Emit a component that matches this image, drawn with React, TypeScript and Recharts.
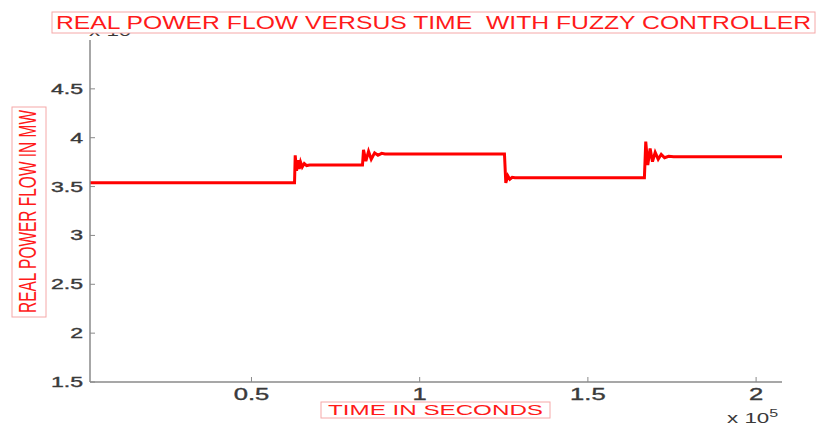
import { LineChart, Line, XAxis, YAxis } from 'recharts';

// time in units of 1e5 s, power in MW (x 1e5 as in the plot)
const timeValues = [
  0.02, 0.628, 0.63, 0.634, 0.638, 0.642, 0.646, 0.651, 0.657, 0.664, 0.673,
  0.83, 0.833, 0.84, 0.848, 0.856, 0.866, 0.876, 0.887, 0.897,
  1.252, 1.256, 1.262, 1.268, 1.275, 1.283,
  1.668, 1.672, 1.678, 1.685, 1.692, 1.7, 1.709, 1.718, 1.728, 1.74, 1.755, 2.077,
];
const powerValues = [
  3.54, 3.54, 3.82, 3.66, 3.77, 3.68, 3.75, 3.7, 3.735, 3.715, 3.72,
  3.72, 3.875, 3.76, 3.86, 3.78, 3.845, 3.82, 3.84, 3.834,
  3.834, 3.537, 3.61, 3.575, 3.595, 3.59,
  3.59, 3.96, 3.72, 3.89, 3.755, 3.85, 3.78, 3.83, 3.795, 3.81, 3.806, 3.806,
];
const xTicks = [0.5, 1, 1.5, 2];
const yTicks = [1.5, 2, 2.5, 3, 3.5, 4, 4.5];

const data = timeValues.map((t, i) => ({ t, p: powerValues[i] }));

const AXIS = '#8a8a8a';
const LABEL = '#3a3a3a';
const RED = '#ff1a1a';
const BOX = '#f5a8a8';
const FONT = '"Liberation Sans", Arial, sans-serif';
const STRETCH = 1.6;

const BottomTick = ({ x, y, payload }: any) => (
  <g>
    <line x1={x} x2={x} y1={y} y2={y - 5} stroke={AXIS} strokeWidth={1} />
    <text
      transform={`translate(${x},${y + 18}) scale(${STRETCH},1)`}
      textAnchor="middle"
      fontSize={16}
      fontFamily={FONT}
      fill={LABEL}
      stroke={LABEL}
      strokeWidth={0.35}
    >
      {payload.value}
    </text>
  </g>
);

const TopTick = ({ x, y }: any) => (
  <line x1={x} x2={x} y1={y} y2={y + 5} stroke={AXIS} strokeWidth={1} />
);

const LeftTick = ({ x, y, payload }: any) => (
  <g>
    <line x1={x} x2={x + 5} y1={y} y2={y} stroke={AXIS} strokeWidth={1} />
    <text
      transform={`translate(${x - 7},${y + 5}) scale(1.65,1)`}
      textAnchor="end"
      fontSize={14}
      fontFamily={FONT}
      fill={LABEL}
      stroke={LABEL}
      strokeWidth={0.35}
    >
      {payload.value}
    </text>
  </g>
);

const RightTick = ({ x, y }: any) => (
  <line x1={x} x2={x - 5} y1={y} y2={y} stroke={AXIS} strokeWidth={1} />
);

export default function App() {
  return (
    <div style={{ position: 'fixed', left: 0, top: 0, width: 818, height: 425, background: '#fff' }}>
      <LineChart width={818} height={425} data={data} margin={{ top: 40, right: 36, bottom: 0, left: 0 }}>
        <XAxis
          xAxisId="bottom"
          dataKey="t"
          type="number"
          domain={[0.02, 2.077]}
          ticks={xTicks}
          height={43}
          tickSize={0}
          tickMargin={0}
          tickLine={false}
          tick={<BottomTick />}
          axisLine={{ stroke: AXIS, strokeWidth: 1.5 }}
          interval={0}
        />
        <XAxis
          xAxisId="top"
          orientation="top"
          dataKey="t"
          type="number"
          domain={[0.02, 2.077]}
          ticks={xTicks}
          height={0}
          tickSize={0}
          tickMargin={0}
          tickLine={false}
          tick={<TopTick />}
          axisLine={{ stroke: AXIS, strokeWidth: 1.5 }}
          interval={0}
        />
        <YAxis
          yAxisId="left"
          type="number"
          domain={[1.5, 5]}
          ticks={yTicks}
          width={90}
          tickSize={0}
          tickMargin={0}
          tickLine={false}
          tick={<LeftTick />}
          axisLine={{ stroke: AXIS, strokeWidth: 1.5 }}
          interval={0}
        />
        <YAxis
          yAxisId="right"
          orientation="right"
          type="number"
          domain={[1.5, 5]}
          ticks={yTicks}
          width={0}
          tickSize={0}
          tickMargin={0}
          tickLine={false}
          tick={<RightTick />}
          axisLine={{ stroke: AXIS, strokeWidth: 1.5 }}
          interval={0}
        />
        <Line
          xAxisId="top"
          yAxisId="right"
          dataKey="p"
          stroke="none"
          dot={false}
          activeDot={false}
          isAnimationActive={false}
        />
        <Line
          xAxisId="bottom"
          yAxisId="left"
          type="linear"
          dataKey="p"
          stroke="#ff0000"
          strokeWidth={3}
          dot={false}
          activeDot={false}
          isAnimationActive={false}
        />
      </LineChart>
      <svg width={818} height={425} style={{ position: 'absolute', left: 0, top: 0, pointerEvents: 'none' }}>
        {/* exponent labels */}
        <text transform="translate(89,36) scale(1.6,1)" fontSize={14} fontFamily={FONT} fill={LABEL}>
          x 10<tspan fontSize={10} dy={-6}>5</tspan>
        </text>
        <text transform="translate(727,423) scale(1.6,1)" fontSize={14} fontFamily={FONT} fill={LABEL}>
          x 10<tspan fontSize={10} dy={-6}>5</tspan>
        </text>
        {/* title */}
        <rect x={52} y={12} width={763} height={21} fill="#fff" stroke={BOX} strokeWidth={1} />
        <text
          x={56}
          y={28.5}
          fontSize={18.5}
          fontFamily={FONT}
          fill={RED}
          textLength={755}
          lengthAdjust="spacingAndGlyphs"
          style={{ whiteSpace: 'pre' }}
        >
          REAL POWER FLOW VERSUS TIME  WITH FUZZY CONTROLLER
        </text>
        {/* x label */}
        <rect x={321} y={402} width={229} height={16} fill="#fff" stroke={BOX} strokeWidth={1} />
        <text
          x={328}
          y={415}
          fontSize={14}
          fontFamily={FONT}
          fill={RED}
          textLength={215}
          lengthAdjust="spacingAndGlyphs"
        >
          TIME IN SECONDS
        </text>
        {/* y label */}
        <rect x={12} y={107} width={34} height={210} fill="#fff" stroke={BOX} strokeWidth={1} />
        <text
          transform="translate(36,313) scale(1.6,1) rotate(-90)"
          fontSize={15.4}
          fontFamily={FONT}
          fill={RED}
          textLength={203}
          lengthAdjust="spacingAndGlyphs"
        >
          REAL POWER FLOW IN MW
        </text>
      </svg>
    </div>
  );
}
